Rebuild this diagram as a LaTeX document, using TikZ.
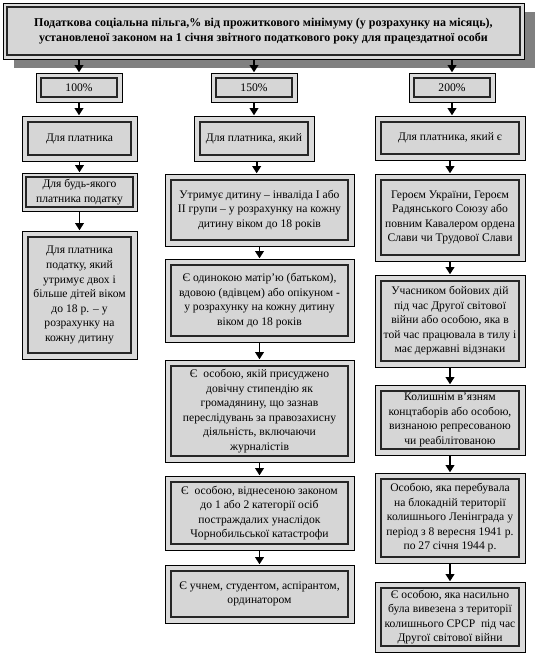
\documentclass[tikz,border=0pt]{standalone}
\usepackage{fontspec}
\setmainfont{Liberation Serif}
\usetikzlibrary{arrows.meta}
\tikzset{
  box/.style={draw=black, line width=0.4pt, fill=black!14, inner sep=0pt,
    align=center, font=\fontsize{8.7}{10.9}\selectfont,
    path picture={\draw[black!85, line width=0.9pt, fill=black!16]
      ([shift={(#1,#1)}]path picture bounding box.north west) rectangle
      ([shift={(-#1,-#1)}]path picture bounding box.south east);}},
  box/.default=6,
  arr/.style={line width=1.4pt, -{Triangle[width=6.5pt,length=5.5pt]}, shorten >=0.3pt},
}
\newcommand\bx[7][6]{%
  \pgfmathsetmacro\bxcx{(#3+#5)/2}\pgfmathsetmacro\bxcy{(#4+#6)/2}%
  \pgfmathsetmacro\bxw{(#5-#3)*0.75}\pgfmathsetmacro\bxh{(#6-#4)*0.75}%
  \node[box=#1, minimum width=\bxw pt, minimum height=\bxh pt] (#2) at (\bxcx,\bxcy) {#7};}
\begin{document}
\begin{tikzpicture}[x=0.75pt,y=-0.75pt]
\useasboundingbox (0,0) rectangle (536,657);
% shadow of the title box
\fill[black!50] (14,12) rectangle (535,68);
\bx[4]{top}{3}{3}{524}{59}{\bfseries\fontsize{9}{12.6}\selectfont Податкова соціальна пільга,\% від прожиткового мінімуму (у розрахунку на місяць),\\\bfseries\fontsize{9}{12.6}\selectfont установленої законом на 1 січня звітного податкового року для працездатної особи}
% percent boxes
\bx[5]{p1}{36}{73}{122}{102}{100\%}
\bx[5]{p2}{211}{73}{297}{102}{150\%}
\bx[5]{p3}{409}{73}{495}{102}{200\%}
% column 1
\bx{a1}{22}{116}{137}{161}{Для платника}
\bx[4]{a2}{22}{173}{137}{211}{Для будь-якого\\платника податку}
\bx{a3}{22}{231}{137}{359}{Для платника\\податку, який\\утримує двох і\\більше дітей віком\\до 18 р. – у\\розрахунку на\\кожну дитину}
% column 2
\bx{b1}{194}{116}{314}{161}{Для платника, який}
\bx{b2}{165}{174}{354}{246}{Утримує дитину – інваліда І або\\ІІ групи – у розрахунку на кожну\\дитину віком до 18 років}
\bx{b3}{165}{259}{354}{342}{Є одинокою матір’ю (батьком),\\вдовою (вдівцем) або опікуном -\\у розрахунку на кожну дитину\\віком до 18 років}
\bx{b4}{165}{360}{354}{462}{Є\ \ особою, якій присуджено\\довічну стипендію як\\громадянину, що зазнав\\переслідувань за правозахисну\\діяльність, включаючи\\журналістів}
\bx{b5}{165}{476}{354}{550}{Є\ \ особою, віднесеною законом\\до 1 або 2 категорії осіб\\постраждалих унаслідок\\Чорнобильської катастрофи}
\bx{b6}{165}{565}{354}{623}{Є учнем, студентом, аспірантом,\\ординатором}
% column 3
\bx{c1}{375}{116}{525}{160}{Для платника, який є}
\bx{c2}{375}{174}{525}{261}{Героєм України, Героєм\\Радянського Союзу або\\повним Кавалером ордена\\Слави чи Трудової Слави}
\bx{c3}{375}{275}{525}{367}{Учасником бойових дій\\під час Другої світової\\війни або особою, яка в\\той час працювала в тилу і\\має державні відзнаки}
\bx{c4}{375}{385}{525}{455}{Колишнім в’язням\\концтаборів або особою,\\визнаною репресованою\\чи реабілітованою}
\bx{c5}{375}{473}{525}{563}{Особою, яка перебувала\\на блокадній території\\колишнього Ленінграда у\\період з 8 вересня 1941 р.\\по 27 січня 1944 р.}
\bx{c6}{375}{582}{525}{652}{Є особою, яка насильно\\була вивезена з території\\колишнього СРСР\ \ під час\\Другої світової війни}
% connectors
\draw[arr] (top.south -| p1.north) -- (p1.north);
\draw[arr] (top.south -| p2.north) -- (p2.north);
\draw[arr] (top.south -| p3.north) -- (p3.north);
\draw[arr] (p1.south) -- (p1.south |- a1.north);
\draw[arr] (a1.south) -- (a1.south |- a2.north);
\draw[arr] (a2.south) -- (a2.south |- a3.north);
\draw[arr] (p2.south) -- (p2.south |- b1.north);
\draw[arr] ([xshift=2pt]b1.south) -- ([xshift=2pt]b1.south |- b2.north);
\draw[arr] (b2.south) -- (b2.south |- b3.north);
\draw[arr] (b3.south) -- (b3.south |- b4.north);
\draw[arr] (b4.south) -- (b4.south |- b5.north);
\draw[arr] (b5.south) -- (b5.south |- b6.north);
\draw[arr] (p3.south) -- (p3.south |- c1.north);
\draw[arr] (c1.south) -- (c1.south |- c2.north);
\draw[arr] (c2.south) -- (c2.south |- c3.north);
\draw[arr] (c3.south) -- (c3.south |- c4.north);
\draw[arr] (c4.south) -- (c4.south |- c5.north);
\draw[arr] (c5.south) -- (c5.south |- c6.north);
\end{tikzpicture}
\end{document}
